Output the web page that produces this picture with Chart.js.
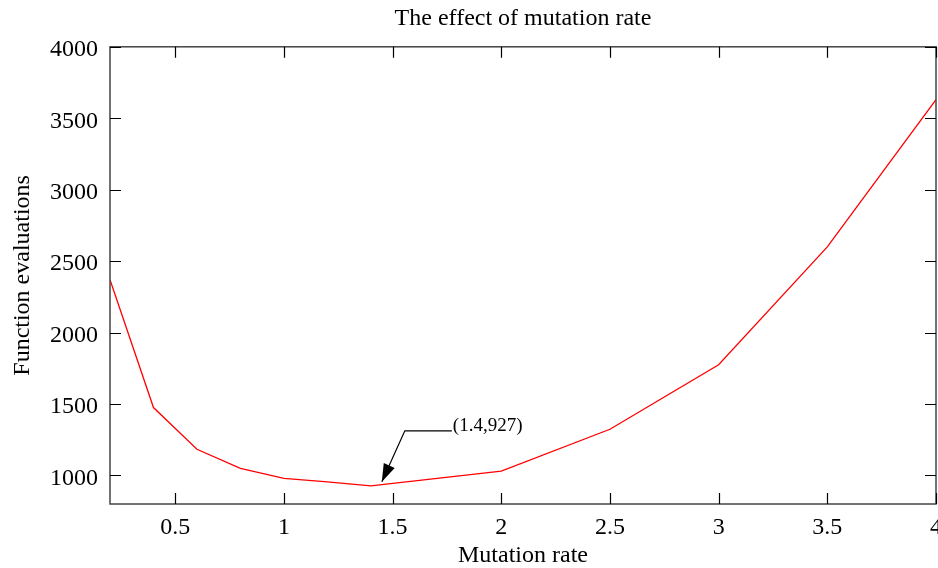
<!DOCTYPE html>
<html>
<head>
<meta charset="utf-8">
<script src="https://cdn.jsdelivr.net/npm/chart.js@4"></script>
<style>
  html, body { margin: 0; padding: 0; background: #fff; }
  #wrap { width: 938px; height: 568px; }
</style>
</head>
<body>
<div id="wrap"><canvas id="chart"></canvas></div>
<script>
const mutationRates = [0.2, 0.4, 0.6, 0.8, 1.0, 1.2, 1.4, 2.0, 2.5, 3.0, 3.5, 4.0];
const evaluations = [2370, 1475, 1183, 1050, 980, 955, 927, 1030, 1323, 1775, 2600, 3630];
const xTickValues = [0.5, 1, 1.5, 2, 2.5, 3, 3.5, 4];
const yTickValues = [1000, 1500, 2000, 2500, 3000, 3500, 4000];
const minPoint = { x: 1.4, y: 927 }; // annotated minimum

const fontFamily = '"Liberation Serif", "DejaVu Serif", serif';
const frameColor = '#444';

// Frame plus inward ticks on all four sides, gnuplot style
const framePlugin = {
  id: 'frame',
  afterDatasetsDraw(chart) {
    const {ctx, chartArea: a, scales: {x, y}} = chart;
    const tl = 11;
    ctx.save();
    ctx.strokeStyle = frameColor;
    ctx.lineWidth = 1.5;
    ctx.strokeRect(a.left, a.top, a.right - a.left, a.bottom - a.top);
    ctx.strokeStyle = '#000';
    ctx.lineWidth = 1.2;
    ctx.beginPath();
    xTickValues.forEach(v => {
      const px = Math.round(x.getPixelForValue(v)) + 0.5;
      ctx.moveTo(px, a.bottom); ctx.lineTo(px, a.bottom - tl);
      ctx.moveTo(px, a.top); ctx.lineTo(px, a.top + tl);
    });
    yTickValues.forEach(v => {
      const py = Math.round(y.getPixelForValue(v)) + 0.5;
      ctx.moveTo(a.left, py); ctx.lineTo(a.left + tl, py);
      ctx.moveTo(a.right, py); ctx.lineTo(a.right - tl, py);
    });
    ctx.stroke();

    // Arrow annotation pointing at the minimum
    const px = x.getPixelForValue(minPoint.x);
    const py = y.getPixelForValue(minPoint.y);
    const tip = {x: px + 11, y: py - 4};
    const elbow = {x: tip.x + 23, y: tip.y - 51};
    const end = {x: elbow.x + 47, y: elbow.y};
    ctx.strokeStyle = '#000';
    ctx.lineWidth = 1.2;
    ctx.beginPath();
    ctx.moveTo(end.x, end.y);
    ctx.lineTo(elbow.x, elbow.y);
    ctx.lineTo(tip.x, tip.y);
    ctx.stroke();
    const ang = Math.atan2(tip.y - elbow.y, tip.x - elbow.x);
    const headLen = 18, headW = 6;
    ctx.fillStyle = '#000';
    ctx.beginPath();
    ctx.moveTo(tip.x, tip.y);
    ctx.lineTo(tip.x - headLen * Math.cos(ang) + headW * Math.sin(ang),
               tip.y - headLen * Math.sin(ang) - headW * Math.cos(ang));
    ctx.lineTo(tip.x - headLen * Math.cos(ang) - headW * Math.sin(ang),
               tip.y - headLen * Math.sin(ang) + headW * Math.cos(ang));
    ctx.closePath();
    ctx.fill();
    ctx.font = '19px ' + fontFamily;
    ctx.textBaseline = 'middle';
    ctx.textAlign = 'left';
    ctx.fillText(`(${minPoint.x},${minPoint.y})`, end.x + 1, end.y - 5);
    ctx.restore();
  }
};

const ctx = document.getElementById('chart').getContext('2d');
const chart = new Chart(ctx, {
  type: 'line',
  data: {
    datasets: [{
      data: mutationRates.map((r, i) => ({x: r, y: evaluations[i]})),
      borderColor: '#ff0000',
      borderWidth: 1.3,
      pointRadius: 0,
      tension: 0,
      fill: false
    }]
  },
  options: {
    responsive: true,
    maintainAspectRatio: false,
    animation: false,
    layout: {padding: {left: 0, right: 2, top: 0, bottom: 0}},
    plugins: {
      legend: {display: false},
      tooltip: {enabled: false},
      title: {
        display: true,
        fullSize: false, // centre over the plot area, not the canvas
        text: 'The effect of mutation rate',
        color: '#000',
        font: {family: fontFamily, size: 24, weight: 'normal', lineHeight: 1.2},
        padding: {top: 4, bottom: 14}
      }
    },
    scales: {
      x: {
        type: 'linear',
        min: 0.2,
        max: 4,
        grid: {display: false, drawTicks: false},
        border: {display: false},
        afterBuildTicks: s => { s.ticks = xTickValues.map(v => ({value: v})); },
        afterFit: s => { s.height = 64; s.paddingLeft = 0; s.paddingRight = 0; },
        ticks: {
          color: '#000',
          padding: 9,
          maxRotation: 0,
          autoSkip: false,
          font: {family: fontFamily, size: 24},
          callback: v => String(v)
        },
        title: {
          display: true,
          text: 'Mutation rate',
          color: '#000',
          padding: {top: 0, bottom: 0},
          font: {family: fontFamily, size: 24, lineHeight: 1.0}
        }
      },
      y: {
        min: 800,
        max: 4000,
        grid: {display: false, drawTicks: false},
        border: {display: false},
        afterBuildTicks: s => { s.ticks = yTickValues.map(v => ({value: v})); },
        afterFit: s => { s.width = 110; s.paddingTop = 0; s.paddingBottom = 0; },
        ticks: {
          color: '#000',
          padding: 12,
          labelOffset: 3,
          autoSkip: false,
          font: {family: fontFamily, size: 24},
          callback: v => String(v)
        },
        title: {
          display: true,
          text: 'Function evaluations',
          color: '#000',
          padding: {top: 8, bottom: 0},
          font: {family: fontFamily, size: 24, lineHeight: 1.2}
        }
      }
    }
  },
  plugins: [framePlugin]
});
</script>
</body>
</html>
